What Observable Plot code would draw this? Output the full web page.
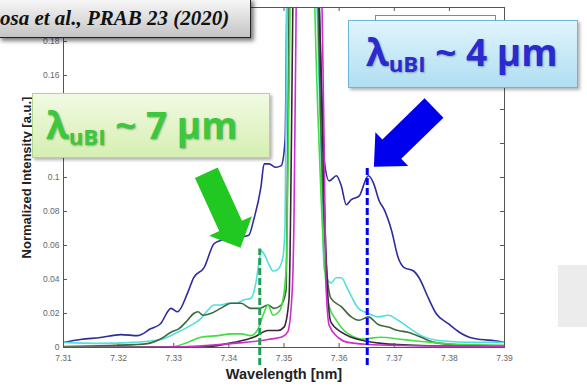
<!DOCTYPE html>
<html><head><meta charset="utf-8">
<script src="https://cdn.jsdelivr.net/npm/d3@7"></script>
<script src="https://cdn.jsdelivr.net/npm/@observablehq/plot@0.6"></script>
<style>
html,body{margin:0;padding:0;background:#fff;}
#wrap{position:relative;width:587px;height:389px;overflow:hidden;background:#fff;}
#wrap svg{position:absolute;left:0;top:0;}
.callout{position:absolute;box-sizing:border-box;font-family:"Open Sans","Noto Sans",sans-serif;font-weight:700;white-space:nowrap;}
.callout sub{font-size:0.6em;vertical-align:-0.28em;}
#green{left:32px;top:93px;width:238px;height:65px;background:linear-gradient(to bottom,#f1fae3,#d6efb2);border:1px solid #b3d68a;box-shadow:2px 2px 3px rgba(0,0,0,0.3);color:#3cc83c;font-size:37px;line-height:62px;padding-left:13px;text-shadow:1px 1px 2px rgba(0,0,0,0.3);}
#blue{left:348px;top:20px;width:230px;height:68px;background:linear-gradient(to bottom,#e0f4fc,#b0def2);border:1px solid #6cb6d6;box-shadow:2px 2px 3px rgba(0,0,0,0.3);color:#2a2ad0;font-size:37px;line-height:62px;padding-left:17px;text-shadow:1px 1px 2px rgba(0,0,0,0.3);}
#cite{position:absolute;left:-2px;top:-2px;width:253px;height:40px;box-sizing:border-box;background:linear-gradient(to bottom,#f8f8f8,#c4c4c4);border:1px solid #222;box-shadow:3px 3px 4px rgba(0,0,0,0.5);font-family:"Liberation Serif","Times New Roman",serif;font-style:italic;font-weight:700;font-size:21px;line-height:38px;color:#111;padding-left:1px;white-space:nowrap;}
#legendFrame{position:absolute;left:375px;top:15px;width:121px;height:30px;box-sizing:border-box;border:1px solid #888;background:#fff;}
#grayPatch{position:absolute;left:558px;top:265px;width:29px;height:62px;background:#ececec;}
</style></head><body><div id="wrap"></div>
<script>
// ---- data ----
const xTicks = [7.31, 7.32, 7.33, 7.34, 7.35, 7.36, 7.37, 7.38, 7.39];
const yTicks = [0, 0.02, 0.04, 0.06, 0.08, 0.1, 0.12, 0.14, 0.16, 0.18, 0.2];
// labels left visible in the reference (the others sit under the slide callouts)
const yTickLabels = [0, 0.02, 0.04, 0.06, 0.08, 0.1, 0.16, 0.18];

const navy = [[7.3100,0.003],[7.3131,0.0047],[7.3167,0.0059],[7.3204,0.0076],[7.3235,0.007],[7.3258,0.011],[7.3276,0.014],[7.3295,0.023],[7.3307,0.021],[7.3325,0.032],[7.3336,0.041],[7.3355,0.047],[7.3373,0.061],[7.3385,0.063],[7.3404,0.064],[7.3422,0.065],[7.3436,0.066],[7.3445,0.075],[7.3458,0.094],[7.3464,0.108],[7.3473,0.108],[7.3485,0.106],[7.3495,0.107],[7.3502,0.122],[7.3505,0.2],[7.3533,1.0],[7.3564,0.2],[7.3569,0.145],[7.3573,0.110],[7.3582,0.098],[7.3595,0.101],[7.3604,0.095],[7.3613,0.084],[7.3622,0.087],[7.3636,0.089],[7.3653,0.101],[7.3662,0.097],[7.3673,0.086],[7.3682,0.081],[7.3695,0.069],[7.3707,0.053],[7.3718,0.047],[7.3735,0.045],[7.3745,0.041],[7.3762,0.029],[7.3776,0.020],[7.3798,0.014],[7.3818,0.009],[7.3836,0.006],[7.3858,0.0047],[7.3882,0.004],[7.3900,0.003]];
const cyan = [[7.3100,0.003],[7.3167,0.0024],[7.3227,0.003],[7.3276,0.0047],[7.3307,0.009],[7.3331,0.013],[7.3349,0.017],[7.3362,0.022],[7.3373,0.025],[7.3385,0.025],[7.3398,0.026],[7.3413,0.026],[7.3427,0.028],[7.3440,0.029],[7.3449,0.038],[7.3455,0.051],[7.3458,0.057],[7.3464,0.055],[7.3471,0.050],[7.3480,0.045],[7.3489,0.046],[7.3498,0.053],[7.3502,0.073],[7.3505,0.2],[7.3531,1.0],[7.3560,0.2],[7.3567,0.116],[7.3573,0.046],[7.3585,0.038],[7.3595,0.041],[7.3604,0.041],[7.3616,0.034],[7.3635,0.023],[7.3653,0.020],[7.3671,0.018],[7.3689,0.019],[7.3707,0.016],[7.3725,0.012],[7.3749,0.007],[7.3785,0.004],[7.3845,0.003],[7.3900,0.003]];
const darkGreen = [[7.3100,0.0006],[7.3245,0.002],[7.3276,0.005],[7.3295,0.009],[7.3309,0.011],[7.3325,0.016],[7.3336,0.020],[7.3344,0.021],[7.3353,0.019],[7.3367,0.020],[7.3385,0.023],[7.3404,0.026],[7.3422,0.026],[7.3440,0.023],[7.3455,0.023],[7.3471,0.025],[7.3482,0.023],[7.3495,0.025],[7.3504,0.034],[7.3509,0.2],[7.3533,1.0],[7.3562,0.2],[7.3575,0.057],[7.3585,0.029],[7.3604,0.024],[7.3622,0.018],[7.3636,0.016],[7.3653,0.018],[7.3671,0.0135],[7.3689,0.012],[7.3707,0.010],[7.3725,0.009],[7.3749,0.006],[7.3773,0.003],[7.3804,0.0018],[7.3900,0.0012]];
const brightGreen = [[7.3100,0.0003],[7.3258,0.0003],[7.3300,0.0006],[7.3325,0.003],[7.3349,0.006],[7.3380,0.007],[7.3404,0.008],[7.3422,0.008],[7.3440,0.007],[7.3453,0.011],[7.3462,0.019],[7.3471,0.025],[7.3480,0.019],[7.3491,0.021],[7.3500,0.032],[7.3505,0.054],[7.3511,0.2],[7.3531,1.0],[7.3556,0.2],[7.3564,0.116],[7.3573,0.051],[7.3582,0.024],[7.3595,0.016],[7.3609,0.010],[7.3625,0.0065],[7.3640,0.005],[7.3676,0.006],[7.3707,0.005],[7.3736,0.004],[7.3767,0.003],[7.3822,0.0018],[7.3900,0.0012]];
const dark = [[7.3100,0.0],[7.3349,0.0002],[7.3409,0.003],[7.3445,0.006],[7.3471,0.010],[7.3489,0.010],[7.3500,0.012],[7.3509,0.028],[7.3516,0.2],[7.3535,1.0],[7.3564,0.2],[7.3573,0.086],[7.3580,0.028],[7.3585,0.015],[7.3604,0.009],[7.3622,0.006],[7.3645,0.004],[7.3676,0.0024],[7.3749,0.0012],[7.3900,0.0006]];
const magenta = [[7.3100,0.0],[7.3289,0.0002],[7.3409,0.0024],[7.3471,0.0047],[7.3498,0.0065],[7.3507,0.0094],[7.3515,0.034],[7.3518,0.073],[7.3522,0.2],[7.3539,1.0],[7.3569,0.2],[7.3573,0.116],[7.3576,0.039],[7.3582,0.013],[7.3598,0.006],[7.3616,0.003],[7.3653,0.0018],[7.3713,0.0012],[7.3900,0.0006]];

// dashed markers (wavelength of the uBI features)
const markerWl = [7.3456, 7.3651];
const markerTop = [0.058, 0.107];
const markerBottom = -0.0106;
// arrows: tail and tip in data coordinates
const greenArrow = {from: [7.3360, 0.1025], to: [7.3422, 0.0584]};
const blueArrow = {from: [7.3773, 0.1406], to: [7.3664, 0.1061]};

// ---- chart ----
const series = [
  {data: navy, color: "#2c2c9c"},
  {data: cyan, color: "#52dede"},
  {data: darkGreen, color: "#3c6a3c"},
  {data: brightGreen, color: "#44dc44"},
  {data: dark, color: "#3a2638"},
  {data: magenta, color: "#cc2ecc"}
];
const markers = markerWl.map((w, i) => ({w, top: markerTop[i], color: i === 0 ? "#1f9e55" : "#0000ee"}));

const chart = Plot.plot({
  width: 587, height: 389,
  marginLeft: 63, marginRight: 83, marginTop: 7, marginBottom: 42,
  x: {domain: [7.31, 7.39]},
  y: {domain: [0, 0.2]},
  style: {fontFamily: "'Liberation Sans', Arial, sans-serif", background: "transparent"},
  marks: [
    Plot.axisX(xTicks, {tickSize: 0, tickPadding: 7, fontSize: 8.5, fill: "#666", label: null, tickFormat: d => String(d)}),
    Plot.axisY(yTickLabels, {tickSize: 0, tickPadding: 4, fontSize: 8.5, fill: "#666", label: null, tickFormat: d => String(d)}),
    Plot.tickX(xTicks, {x: d => d, insetTop: 336, stroke: "#555"}),
    Plot.tickX(xTicks, {x: d => d, insetBottom: 336, stroke: "#555"}),
    Plot.tickY(yTicks, {y: d => d, insetRight: 437, stroke: "#555"}),
    Plot.tickY(yTicks, {y: d => d, insetLeft: 437, stroke: "#555"}),
    ...series.map(s => Plot.line(s.data, {x: d => d[0], y: d => d[1], stroke: s.color, strokeWidth: 1.6, curve: "monotone-x", clip: true})),
    Plot.frame({stroke: "#555"}),
    Plot.ruleX(markers, {x: "w", y1: markerBottom, y2: "top", stroke: "color", strokeWidth: 3, strokeDasharray: "7,3"}),
    Plot.text(["Wavelength [nm]"], {frameAnchor: "bottom", dy: 31, text: d => d, fontSize: 14.5, fontWeight: "bold", fill: "#222"}),
    Plot.text(["Normalized Intensity [a.u.]"], {frameAnchor: "left", dx: -37, rotate: -90, textAnchor: "middle", text: d => d, fontSize: 13, fontWeight: "bold", fill: "#222"})
  ]
});

const wrap = document.getElementById("wrap");
wrap.appendChild(chart);

// block arrows drawn through the chart's scales
const sx = chart.scale("x"), sy = chart.scale("y");
function blockArrow(a, shaftW, headW, headL) {
  const x0 = sx.apply(a.from[0]), y0 = sy.apply(a.from[1]);
  const x1 = sx.apply(a.to[0]), y1 = sy.apply(a.to[1]);
  const dx = x1 - x0, dy = y1 - y0, L = Math.hypot(dx, dy);
  const ux = dx / L, uy = dy / L, px = -uy, py = ux;
  const bx = x1 - ux * headL, by = y1 - uy * headL;
  const pts = [
    [x0 + px * shaftW / 2, y0 + py * shaftW / 2],
    [bx + px * shaftW / 2, by + py * shaftW / 2],
    [bx + px * headW / 2, by + py * headW / 2],
    [x1, y1],
    [bx - px * headW / 2, by - py * headW / 2],
    [bx - px * shaftW / 2, by - py * shaftW / 2],
    [x0 - px * shaftW / 2, y0 - py * shaftW / 2]
  ];
  return pts.map(p => p.join(",")).join(" ");
}
const svg = d3.select(chart);
svg.append("polygon").attr("points", blockArrow(greenArrow, 25, 47, 24)).attr("fill", "#22c822");
svg.append("polygon").attr("points", blockArrow(blueArrow, 27, 47, 25)).attr("fill", "#0000ee");

// slide overlays
wrap.insertAdjacentHTML("beforeend",
  '<div id="legendFrame"></div>' +
  '<div id="grayPatch"></div>' +
  '<div class="callout" id="green">λ<sub>uBI</sub> ~ 7 μm</div>' +
  '<div class="callout" id="blue">λ<sub>uBI</sub> ~ 4 μm</div>' +
  '<div id="cite">osa et al., PRAB 23 (2020)</div>');
</script>
</body></html>
